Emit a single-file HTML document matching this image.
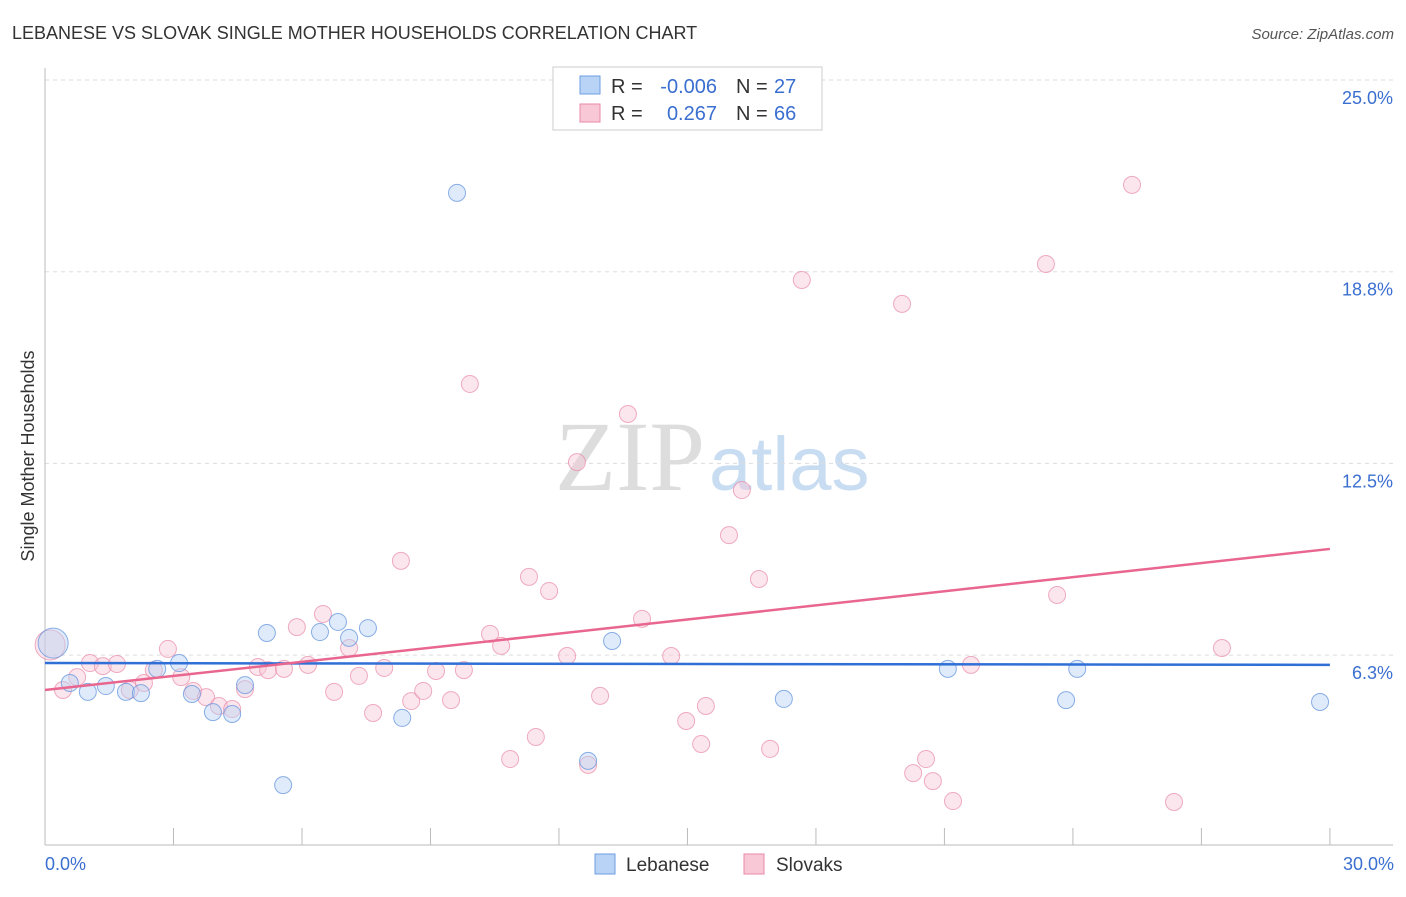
<!DOCTYPE html>
<html><head><meta charset="utf-8"><style>
body{margin:0;background:#fff;font-family:"Liberation Sans",sans-serif}
</style></head><body>
<svg id="c" width="1406" height="892" xmlns="http://www.w3.org/2000/svg" font-family="Liberation Sans, sans-serif">
<text x="12" y="39" font-size="18" fill="#333">LEBANESE VS SLOVAK SINGLE MOTHER HOUSEHOLDS CORRELATION CHART</text>
<text x="1394" y="39" font-size="15" fill="#555" text-anchor="end" font-style="italic">Source: ZipAtlas.com</text>
<text x="555" y="490" font-size="100" fill="#ddd" font-family="Liberation Serif, serif">ZIP<tspan fill="#c8dcf2" font-family="Liberation Sans, sans-serif" font-size="76" dx="4">atlas</tspan></text>
<g id="grid"></g><g id="pts"></g><g id="lines"></g>
<text transform="translate(34,456) rotate(-90)" font-size="18" fill="#333" text-anchor="middle">Single Mother Households</text>
<text x="45" y="870" font-size="18" fill="#3a6fd0">0.0%</text>
<text x="1394" y="870" font-size="18" fill="#3a6fd0" text-anchor="end">30.0%</text>
<g font-size="20">
<rect x="553" y="67" width="269" height="63" fill="#fff" stroke="#ccc"/>
<rect x="580" y="76" width="20" height="18" fill="#b8d3f5" stroke="#6d9fe0"/>
<rect x="580" y="104" width="20" height="18" fill="#f9c8d6" stroke="#e88aa8"/>
<text x="611" y="93" fill="#333">R =</text>
<text x="717" y="93" fill="#3a6fd0" text-anchor="end">-0.006</text>
<text x="736" y="93" fill="#333">N =</text>
<text x="774" y="93" fill="#3a6fd0">27</text>
<text x="611" y="120" fill="#333">R =</text>
<text x="717" y="120" fill="#3a6fd0" text-anchor="end">0.267</text>
<text x="736" y="120" fill="#333">N =</text>
<text x="774" y="120" fill="#3a6fd0">66</text>
</g>
<g>
<rect x="595" y="854" width="20" height="20" fill="#b8d3f5" stroke="#6d9fe0"/>
<text x="626" y="871" font-size="19" fill="#333">Lebanese</text>
<rect x="744" y="854" width="20" height="20" fill="#f9c8d6" stroke="#e88aa8"/>
<text x="776" y="871" font-size="19" fill="#333">Slovaks</text>
</g>
</svg>
<script>
const yTicks=[25,18.75,12.5,6.25];
const yTickLabels=["25.0%","18.8%","12.5%","6.3%"];
const xTicks=[0,3,6,9,12,15,18,21,24,27,30];
const blueX=[0.19,0.58,1.00,1.42,1.89,2.24,2.62,3.13,3.43,3.92,4.37,4.67,5.18,5.56,6.42,6.84,7.10,7.54,8.34,9.62,12.68,13.24,17.25,21.08,23.84,24.10,29.77];
const blueY=[6.64,5.34,5.05,5.24,5.05,5.01,5.80,5.99,4.98,4.39,4.33,5.27,6.97,2.01,7.00,7.33,6.81,7.13,4.20,21.32,2.80,6.71,4.82,5.80,4.78,5.80,4.72];
const pinkX=[0.12,0.42,0.75,1.05,1.35,1.68,1.98,2.31,2.54,2.87,3.18,3.46,3.76,4.06,4.37,4.67,4.97,5.21,5.58,5.88,6.14,6.49,6.75,7.10,7.33,7.66,7.92,8.31,8.55,8.83,9.13,9.48,9.78,9.92,10.39,10.65,10.86,11.30,11.46,11.77,12.19,12.42,12.68,12.96,13.61,13.94,14.62,14.97,15.32,15.43,15.97,16.27,16.67,16.93,17.67,20.01,20.27,20.57,20.73,21.20,21.62,23.37,23.63,25.38,26.36,27.48];
const pinkY=[6.58,5.11,5.53,5.99,5.89,5.96,5.11,5.34,5.76,6.45,5.53,5.08,4.88,4.59,4.49,5.14,5.86,5.76,5.80,7.16,5.93,7.59,5.05,6.48,5.57,4.36,5.83,9.32,4.75,5.08,5.73,4.78,5.76,15.09,6.94,6.55,2.86,8.80,3.58,8.34,6.22,12.54,2.67,4.92,14.11,7.43,6.22,4.10,3.35,4.59,10.16,11.63,8.73,3.19,18.48,17.70,2.40,2.86,2.14,1.49,5.93,19.00,8.21,21.58,1.46,6.48];
const blueTrend=[5.99,5.93];
const pinkTrend=[5.11,9.71];
const X=v=>45+v*42.83, Y=v=>80+(25-v)*30.67;
const NS="http://www.w3.org/2000/svg";
function mk(t,a,p){const e=document.createElementNS(NS,t);for(const k in a)e.setAttribute(k,a[k]);p.appendChild(e);return e;}
const g=document.getElementById('grid');
yTicks.forEach((t,i)=>{
 const l=mk('line',{x1:45,x2:1393,y1:Y(t),y2:Y(t),stroke:'#ddd','stroke-dasharray':'4,4'},g);
 
 
 const tx=mk('text',{x:1393,y:Y(t)+24,'font-size':18,fill:'#3a6fd0','text-anchor':'end'},g);
 tx.textContent=yTickLabels[i];
 
 
});
const ax=mk('line',{x1:45,x2:45,y1:68,y2:845,stroke:'#bbb'},g);


const bx=mk('line',{x1:45,x2:1393,y1:845,y2:845,stroke:'#bbb'},g);


xTicks.forEach(t=>{const l=mk('line',{x1:X(t),x2:X(t),y1:828,y2:845,stroke:'#bbb'},g);
 
 });
const p=document.getElementById('pts');
function pts(xs,ys,fill,stroke,name){xs.forEach((x,i)=>{const big=i==0&&x<0.3;
 const c=mk('circle',{cx:X(x),cy:Y(ys[i]),r:big?15:8.5,fill:fill,'fill-opacity':0.45,stroke:stroke,'stroke-opacity':0.7,'stroke-width':1},p);
 
 });}
pts(pinkX,pinkY,'#f9c8d6','#e88aa8','slovaks-point');
pts(blueX,blueY,'#b8d3f5','#5b8fdc','lebanese-point');
const L=document.getElementById('lines');
const bl=mk('line',{x1:X(0),x2:X(30),y1:Y(blueTrend[0]),y2:Y(blueTrend[1]),stroke:'#2f6fd6','stroke-width':2.5},L);


const pl=mk('line',{x1:X(0),x2:X(30),y1:Y(pinkTrend[0]),y2:Y(pinkTrend[1]),stroke:'#e8668f','stroke-width':2.5},L);


</script>
</body></html>
